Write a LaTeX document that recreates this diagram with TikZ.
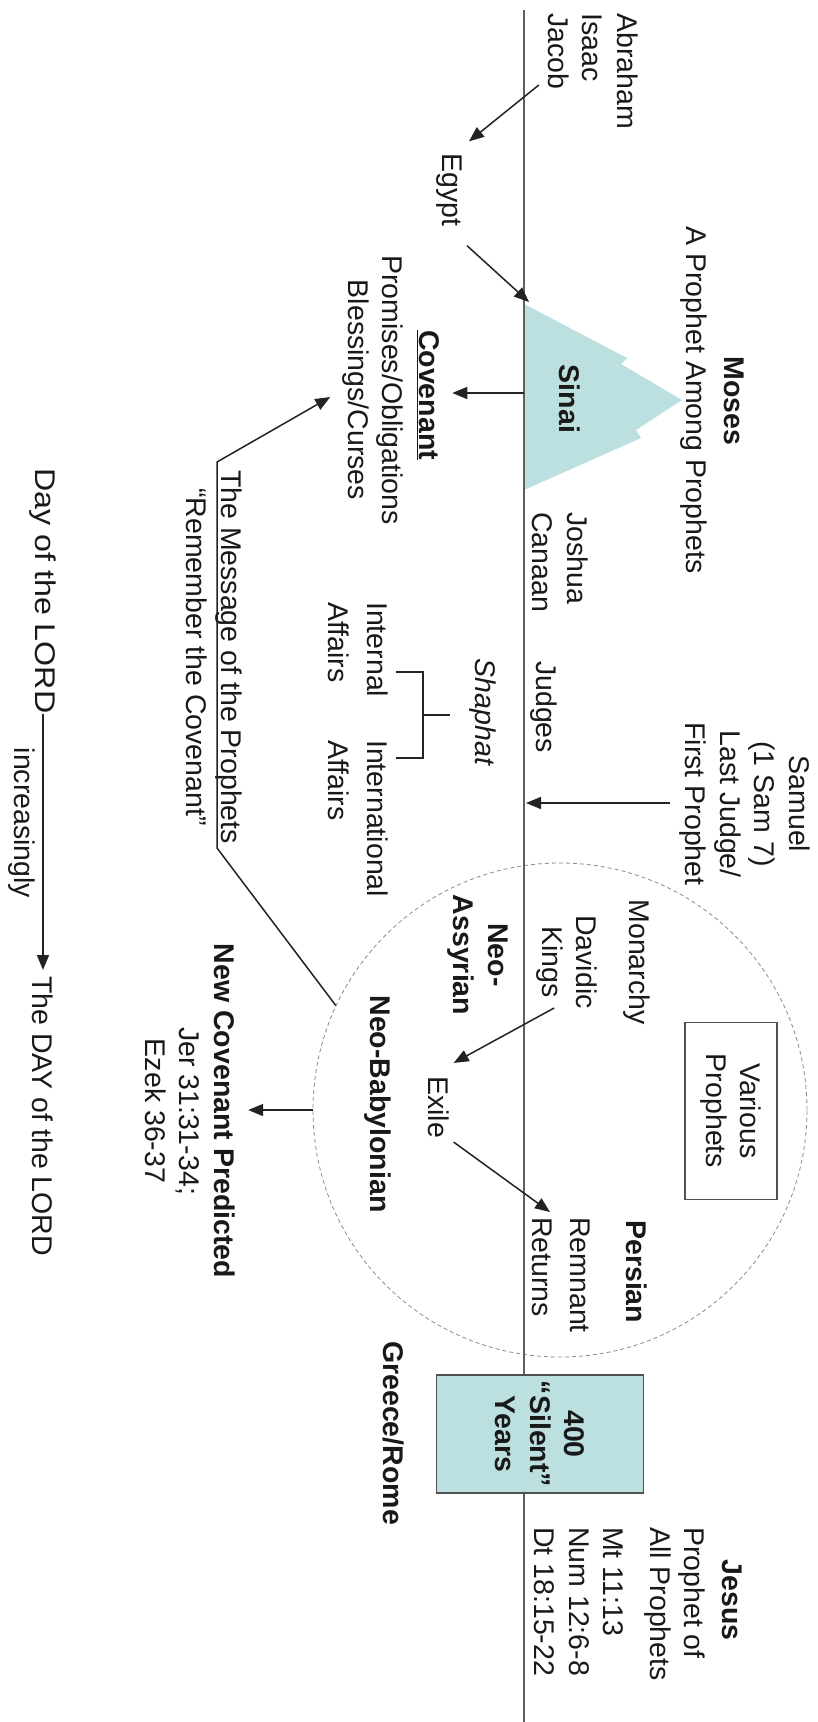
\documentclass[tikz,border=0pt]{standalone}
\usepackage{fontspec}
\setmainfont{Liberation Sans}
\usetikzlibrary{arrows.meta,calc}
\definecolor{tealfill}{RGB}{188,223,223}
\definecolor{ink}{RGB}{25,25,25}
\definecolor{linec}{RGB}{35,35,35}
\definecolor{tlc}{RGB}{95,95,95}
\definecolor{boxc}{RGB}{80,80,80}
\definecolor{circc}{RGB}{140,140,140}
\newcommand{\dfont}{\fontsize{28.5}{34.5}\selectfont}
\begin{document}
\begin{tikzpicture}[x=1pt,y=-1pt,
  lab/.style={rotate=-90,inner sep=0pt,font=\dfont,text=ink},
  labl/.style={lab,align=left,anchor=west},
  labc/.style={lab,align=center},
  boldlab/.style={lab,font=\dfont\bfseries},
  conn/.style={draw=linec,line width=1.5pt,-{Triangle[length=15pt,width=12pt]}},
  tline/.style={draw=tlc,line width=1.5pt},
  plainline/.style={draw=linec,line width=1.2pt}]
\useasboundingbox (0,0) rectangle (817,1722);
\fill[white] (0,0) rectangle (817,1722);
% mountain
\fill[tealfill] (524,304) -- (627,358) -- (621,364) -- (682,400) -- (636,430) -- (641,438) -- (524,490) -- cycle;
% big dashed circle
\node[circle,draw=circc,dashed,dash pattern=on 4pt off 3pt,line width=0.8pt,minimum size=494pt,inner sep=0pt] (circ) at (560,1110) {};
% timeline
\draw[tline] (524,10) -- (524,1722);

% texts
\node[labl] (abr) at (593,13) {Abraham\\Isaac\\Jacob};
\node[lab] (egypt) at (449,190) {Egypt};
\node[boldlab] (moses) at (734,401) {Moses};
\node[lab] (prophet) at (694,400) {A Prophet Among Prophets};
\node[boldlab] (sinai) at (570,399) {Sinai};
\node[boldlab] (cov) at (428,395) {\underline{Covenant}};
\node[labc] (pb) at (373,390) {Promises/Obligations\\Blessings/Curses};
\node[labl] (jc) at (560,512) {Joshua\\Canaan};
\node[lab] (judges) at (544,707) {Judges};
\node[lab,font=\dfont\itshape] (shaphat) at (483,712) {Shaphat};
\node[labl] (ia) at (358,602) {Internal\\[4.5pt]Affairs};
\node[labl] (iia) at (358,740) {International\\[4.5pt]Affairs};
\node[labc] (sam) at (745,804) {Samuel\\(1 Sam 7)\\Last Judge/\\First Prophet};
\node[labc] (msg) at (214,657) {The Message of the Prophets\\“Remember the Covenant”};
\node[lab,anchor=west,xscale=1.13] (day1) at (43,468) {Day of the LORD};
\node[lab,anchor=west,inner xsep=6pt] (day2) at (43,970) {The DAY of the LORD};
\node[lab] (incr) at (22,823) {increasingly};
\node[labc] (ncp) at (190,1111) {\textbf{New Covenant Predicted}\\Jer 31:31-34;\\Ezek 36-37};
\node[boldlab] (nb) at (378,1104) {Neo-Babylonian};
\node[boldlab] (gr) at (394,1433) {Greece/Rome};
\node[lab] (mon) at (637,962) {Monarchy};
\node[labc] (dk) at (567,962) {Davidic\\Kings};
\node[labc,font=\dfont\bfseries] (na) at (478,955) {Neo-\\Assyrian};
\node[lab] (exile) at (439,1107) {Exile};
\node[boldlab,anchor=west] (persian) at (637,1220) {Persian};
\node[labl] (rr) at (561,1217) {Remnant\\[3.5pt]Returns};
\node[labc,draw=boxc,line width=1.3pt,minimum width=177pt,minimum height=92pt] (vp) at (731,1111) {Various\\Prophets};
\node[labc,font=\dfont\bfseries,fill=tealfill,draw=boxc,line width=1.3pt,minimum width=118pt,minimum height=207pt] (silent) at (540,1434) {400\\“Silent”\\Years};
\node[boldlab] (jesus) at (732,1600) {Jesus};
\node[labl] (jp) at (620,1527) {Prophet of\\All Prophets\\[12pt]Mt 11:13\\Num 12:6-8\\Dt 18:15-22};

% bracket under Shaphat
\draw[plainline] (396,672) -- (423,672) -- (423,758) -- (396,758);
\draw[plainline] (423,715) -- (450,715);

% coordinates
\coordinate (sinaiS) at (529,302);
\coordinate (sinaiC) at (524,393);
\coordinate (tlSam) at (526,803);
\coordinate (mA) at (217,848);
\coordinate (mB) at (217,462);
\coordinate (ncT) at ($(ncp.north)+(13,0)$);

% connectors
\draw[conn] ($(abr.south west)+(-9,72)$) -- ($(egypt.north west)+(7,-12)$);
\draw[conn] ($(egypt.north east)+(5,19)$) -- (sinaiS);
\draw[conn] (sinaiC) -- ($(cov.north)+(13,-2)$);
\draw[conn] ($(sam.south)+(-10,-1)$) -- (tlSam);
\draw[conn] (circ.155.6) -- (mA) -- (mB) -- ($(pb.south)+(-12,7)$);
\draw[conn] (circ.west) -- (circ.west -| ncT);
\draw[conn] (day1.east) -- (day2.west);
\draw[conn] ($(dk.south east)+(18,-1)$) -- ($(exile.north west)+(4,-13)$);
\draw[conn] ($(exile.north east)+(4,4)$) -- ($(rr.west)+(-11,-5)$);
\end{tikzpicture}
\end{document}
